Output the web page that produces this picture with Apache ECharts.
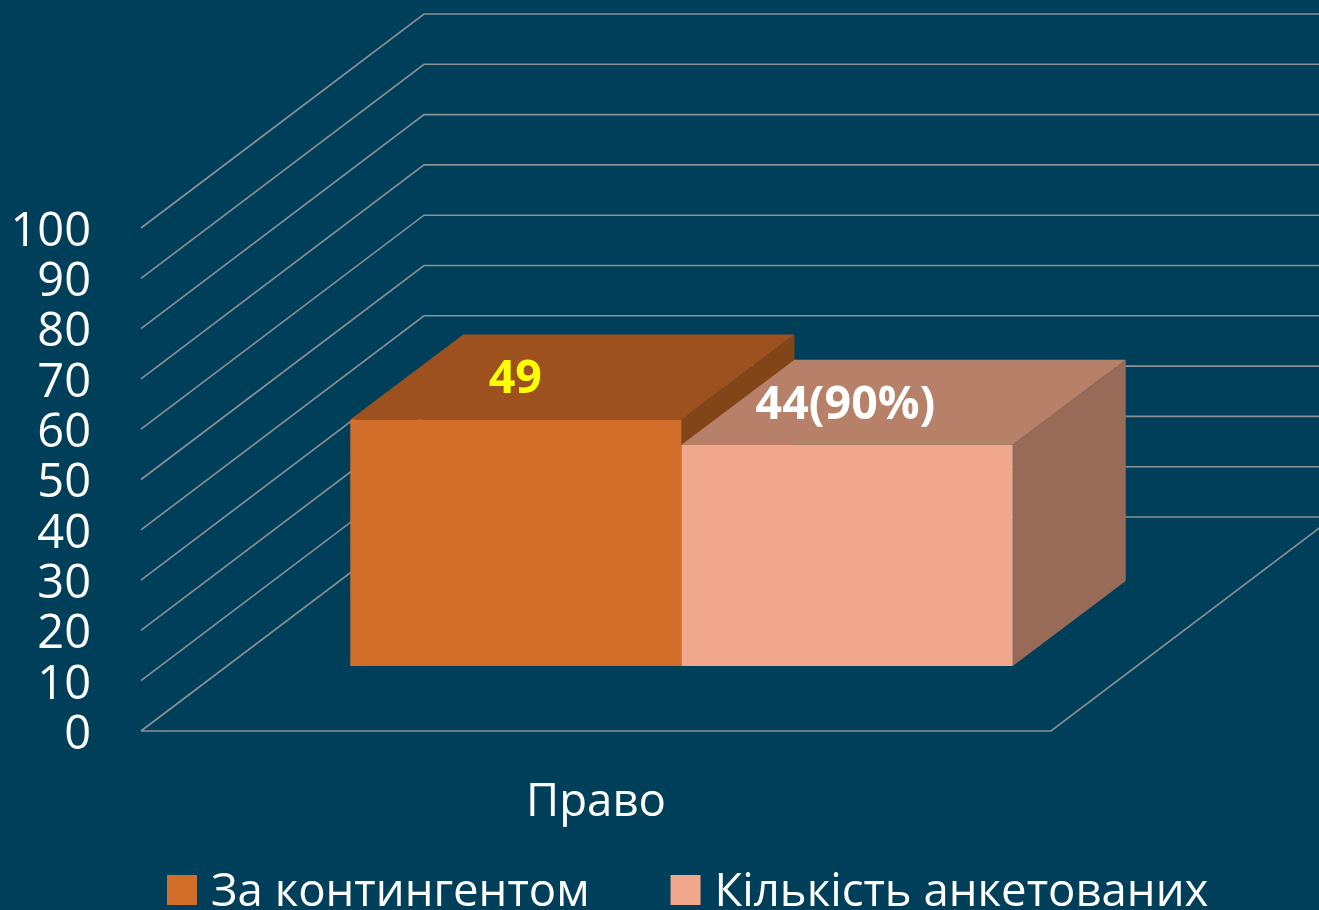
<!DOCTYPE html>
<html>
<head>
<meta charset="utf-8">
<title>Право</title>
<style>
html, body { margin: 0; padding: 0; background: #003f5a; overflow: hidden; }
#chart { width: 1319px; height: 910px; }
</style>
<script src="https://cdn.jsdelivr.net/npm/echarts@6/dist/echarts.min.js"></script>
</head>
<body>
<div id="chart"></div>
<script>
var categories = ['Право'];
var yTicks = [0, 10, 20, 30, 40, 50, 60, 70, 80, 90, 100];
var contingent = [49];
var surveyed = [44];
var contingentLabels = ['49'];
var surveyedLabels = ['44(90%)'];

var FONT = '"Open Sans", "Noto Sans", sans-serif';
var LINE = { stroke: '#8b9295', lineWidth: 1.6, fill: null };

// box projection: how far the back plane sits from the front plane
var WALL_DX = 283, WALL_DY = -214;
var BAR_DX = 113, BAR_DY = -85;
var BAR_SHIFT_X = 85.5, BAR_SHIFT_Y = -65;
var BAR_WIDTH = 0.364;   // of the category band

function shade(pts, color) {
    return { type: 'polygon', shape: { points: pts }, style: { fill: color, stroke: null } };
}

function line(pts) {
    return { type: 'polyline', shape: { points: pts }, style: LINE };
}

// back wall, left wall and floor
function renderWall(params, api) {
    var p = api.coord([0, api.value(0)]);
    var band = api.size([1, 0])[0];
    var left = p[0] - band / 2;
    var y = p[1];
    var children = [line([[left, y], [left + WALL_DX, y + WALL_DY], [left + band + WALL_DX, y + WALL_DY]])];
    if (api.value(0) === 0) {
        children.push(line([[left, y], [left + band, y], [left + band + WALL_DX, y + WALL_DY]]));
    }
    return { type: 'group', children: children };
}

function makeBar(side, colors, texts, textColor, textDx, textDy) {
    return function (params, api) {
        var base = api.coord([0, 0]);
        var top = api.coord([0, api.value(1)]);
        var band = api.size([1, 0])[0];
        var w = band * BAR_WIDTH;
        var x0 = base[0] + BAR_SHIFT_X + (side === 0 ? -w : 0);
        var x1 = x0 + w;
        var yb = base[1] + BAR_SHIFT_Y;
        var yt = top[1] + BAR_SHIFT_Y;
        return {
            type: 'group',
            children: [
                shade([[x1, yb], [x1 + BAR_DX, yb + BAR_DY], [x1 + BAR_DX, yt + BAR_DY], [x1, yt]], colors[2]),
                shade([[x0, yt], [x1, yt], [x1 + BAR_DX, yt + BAR_DY], [x0 + BAR_DX, yt + BAR_DY]], colors[1]),
                shade([[x0, yb], [x1, yb], [x1, yt], [x0, yt]], colors[0]),
                {
                    type: 'text',
                    style: {
                        text: texts[params.dataIndex],
                        x: x0 + textDx, y: yt + textDy,
                        fill: textColor,
                        font: 'bold 46.5px ' + FONT,
                        align: 'center', verticalAlign: 'middle'
                    }
                }
            ]
        };
    };
}

var chart = echarts.init(document.getElementById('chart'), null, { renderer: 'canvas' });

chart.setOption({
    backgroundColor: '#003f5a',
    animation: false,
    grid: { left: 141, right: 268, top: 228, bottom: 179 },
    legend: {
        data: ['За контингентом', 'Кількість анкетованих'],
        left: 167, top: 870, padding: 0,
        icon: 'rect',
        itemWidth: 30, itemHeight: 30, itemGap: 81,
        formatter: '{t|{name}}',
        textStyle: {
            rich: {
                t: { color: '#ffffff', fontSize: 45.5, fontFamily: FONT, padding: [6, 0, 0, 9] }
            }
        }
    },
    xAxis: {
        type: 'category',
        data: categories,
        axisLine: { show: false },
        axisTick: { show: false },
        axisLabel: { color: '#ffffff', fontSize: 45.6, fontFamily: FONT, margin: 49 }
    },
    yAxis: {
        type: 'value',
        min: 0, max: 100, interval: 10,
        axisLine: { show: false },
        axisTick: { show: false },
        splitLine: { show: false },
        axisLabel: { color: '#ffffff', fontSize: 47, fontFamily: FONT, margin: 50, verticalAlign: 'top', lineHeight: 9 }
    },
    series: [
        {
            type: 'custom',
            name: 'walls',
            silent: true,
            clip: false,
            renderItem: renderWall,
            encode: { y: 0 },
            data: yTicks.map(function (v) { return [v]; })
        },
        {
            type: 'custom',
            name: 'За контингентом',
            clip: false,
            itemStyle: { color: '#d06e2a' },
            renderItem: makeBar(0, ['#d06e2a', '#9c511e', '#824517'], contingentLabels, '#ffff00', 165, -40),
            encode: { x: 0, y: 1 },
            data: contingent.map(function (v, i) { return [i, v]; })
        },
        {
            type: 'custom',
            name: 'Кількість анкетованих',
            clip: false,
            itemStyle: { color: '#f1a78c' },
            renderItem: makeBar(1, ['#f1a78c', '#b78169', '#986b58'], surveyedLabels, '#ffffff', 164, -39),
            encode: { x: 0, y: 1 },
            data: surveyed.map(function (v, i) { return [i, v]; })
        }
    ]
});
</script>
</body>
</html>
